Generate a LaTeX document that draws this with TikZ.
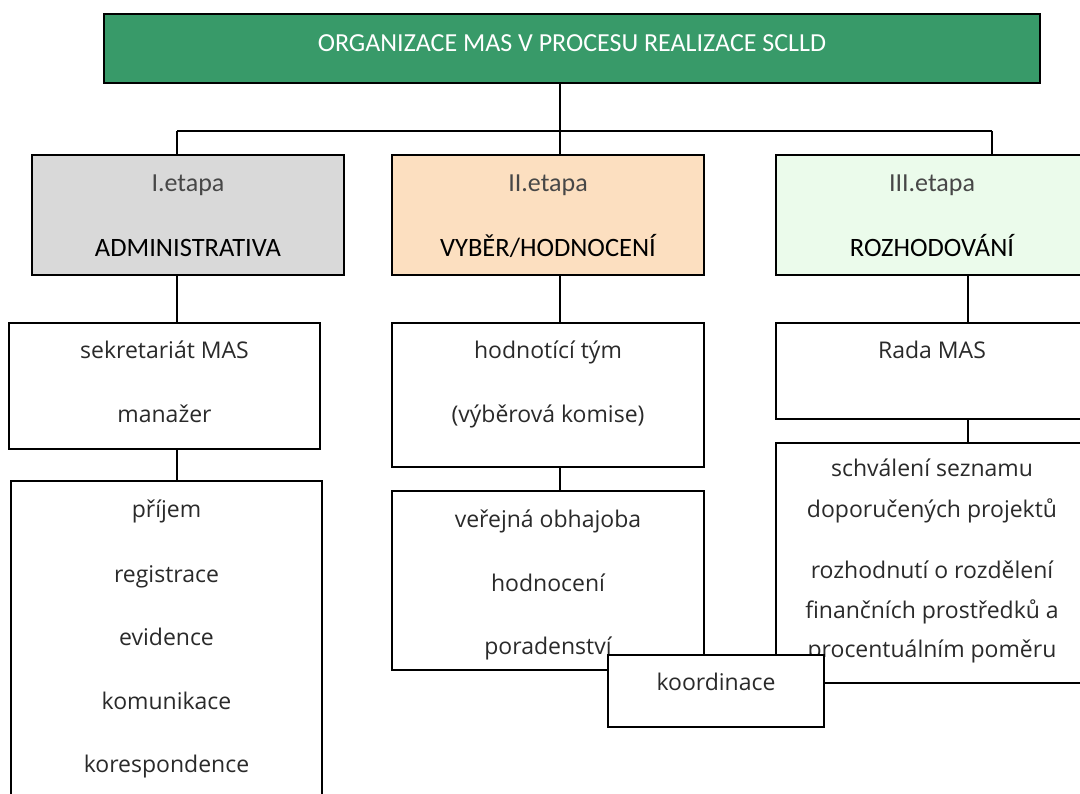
\documentclass[tikz,border=0pt]{standalone}
\usepackage{fontspec}
\setmainfont{Open Sans}
\newfontfamily\calib{Carlito}
\definecolor{titlegreen}{HTML}{389A69}
\definecolor{boxgray}{HTML}{D9D9D9}
\definecolor{boxpeach}{HTML}{FCDFC0}
\definecolor{boxmint}{HTML}{EBFBEB}
\definecolor{inkgray}{HTML}{2A2A2A}
\tikzset{
  orgbox/.style={draw, line width=1.8pt, inner sep=0pt, fill=white},
  txt/.style={anchor=base, inner sep=0pt, text=inkgray, font=\fontsize{23}{27}\selectfont},
  etapa/.style={anchor=base, inner sep=0pt, text=black!72, font=\calib\fontsize{26}{30}\selectfont},
  head/.style={anchor=base, inner sep=0pt, text=black, font=\calib\fontsize{26.5}{30}\selectfont},
}
\begin{document}
\begin{tikzpicture}[x=1pt, y=-1pt, line width=1.8pt]
  \useasboundingbox (0,0) rectangle (1080,794);
  \clip (0,0) rectangle (1080,794);
  % title
  \node[orgbox, fill=titlegreen, minimum width=936pt, minimum height=69pt] (title) at (572,48.5) {};
  \node[anchor=base, inner sep=0pt, text=white, font=\calib\fontsize{26}{30}\selectfont] (titletxt) at (572,52) {ORGANIZACE MAS V PROCESU REALIZACE SCLLD};
  % stages
  \node[orgbox, fill=boxgray, minimum width=312pt, minimum height=120pt] (eI) at (188,215) {};
  \node[etapa] (eIa) at (188,192) {I.etapa};
  \node[head] (eIb) at (188,257) {ADMINISTRATIVA};
  \node[orgbox, fill=boxpeach, minimum width=312pt, minimum height=120pt] (eII) at (548,215) {};
  \node[etapa] (eIIa) at (548,192) {II.etapa};
  \node[head] (eIIb) at (548,257) {VYBĚR/HODNOCENÍ};
  \node[orgbox, fill=boxmint, minimum width=312pt, minimum height=120pt] (eIII) at (932,215) {};
  \node[etapa] (eIIIa) at (932,192) {III.etapa};
  \node[head] (eIIIb) at (932,257) {ROZHODOVÁNÍ};
  % bus
  \coordinate (busI) at (177,131);
  \coordinate (busII) at (560,131);
  \coordinate (busIII) at (992,131);
  \coordinate (colIII) at (968,300);
  \draw (title.south -| busII) -- (busII);
  \draw (busI) -- (busIII);
  \draw (busI) -- (busI |- eI.north);
  \draw (busII) -- (busII |- eII.north);
  \draw (busIII) -- (busIII |- eIII.north);
  % I. administrativa
  \node[orgbox, minimum width=311pt, minimum height=126pt] (sek) at (164.5,386) {};
  \node[txt] (sek1) at (164.5,359) {sekretariát MAS};
  \node[txt] (sek2) at (164.5,423) {manažer};
  \node[orgbox, minimum width=311pt, minimum height=329pt] (prij) at (166.5,645.5) {};
  \node[txt] (prij1) at (166.5,518) {příjem};
  \node[txt] (prij2) at (166.5,582) {registrace};
  \node[txt] (prij3) at (166.5,645) {evidence};
  \node[txt] (prij4) at (166.5,709) {komunikace};
  \node[txt] (prij5) at (166.5,772) {korespondence};
  \draw (eI.south -| busI) -- (sek.north -| busI);
  \draw (sek.south -| busI) -- (prij.north -| busI);
  % II. vyber/hodnoceni
  \node[orgbox, minimum width=312pt, minimum height=144pt] (hod) at (548,395) {};
  \node[txt] (hod1) at (548,359) {hodnotící tým};
  \node[txt] (hod2) at (548,423) {(výběrová komise)};
  \node[orgbox, minimum width=312pt, minimum height=179pt] (obh) at (548,580.5) {};
  \node[txt] (obh1) at (548,527) {veřejná obhajoba};
  \node[txt] (obh2) at (548,591) {hodnocení};
  \node[txt] (obh3) at (548,654) {poradenství};
  \draw (eII.south -| busII) -- (hod.north -| busII);
  \draw (hod.south -| busII) -- (obh.north -| busII);
  % III. rozhodovani
  \node[orgbox, minimum width=312pt, minimum height=96pt] (rada) at (932,371) {};
  \node[txt] (rada1) at (932,359) {Rada MAS};
  \node[orgbox, minimum width=312pt, minimum height=240pt] (schv) at (932,563) {};
  \node[txt] (schv1) at (932,477) {schválení seznamu};
  \node[txt] (schv2) at (932,517) {doporučených projektů};
  \node[txt] (schv3) at (932,578) {rozhodnutí o rozdělení};
  \node[txt] (schv4) at (932,618) {finančních prostředků a};
  \node[txt] (schv5) at (932,657) {procentuálním poměru};
  \draw (eIII.south -| colIII) -- (rada.north -| colIII);
  \draw (rada.south -| colIII) -- (schv.north -| colIII);
  % koordinace
  \node[orgbox, minimum width=216pt, minimum height=72pt] (koord) at (716,691) {};
  \node[txt] (koord1) at (716,690) {koordinace};
\end{tikzpicture}
\end{document}
